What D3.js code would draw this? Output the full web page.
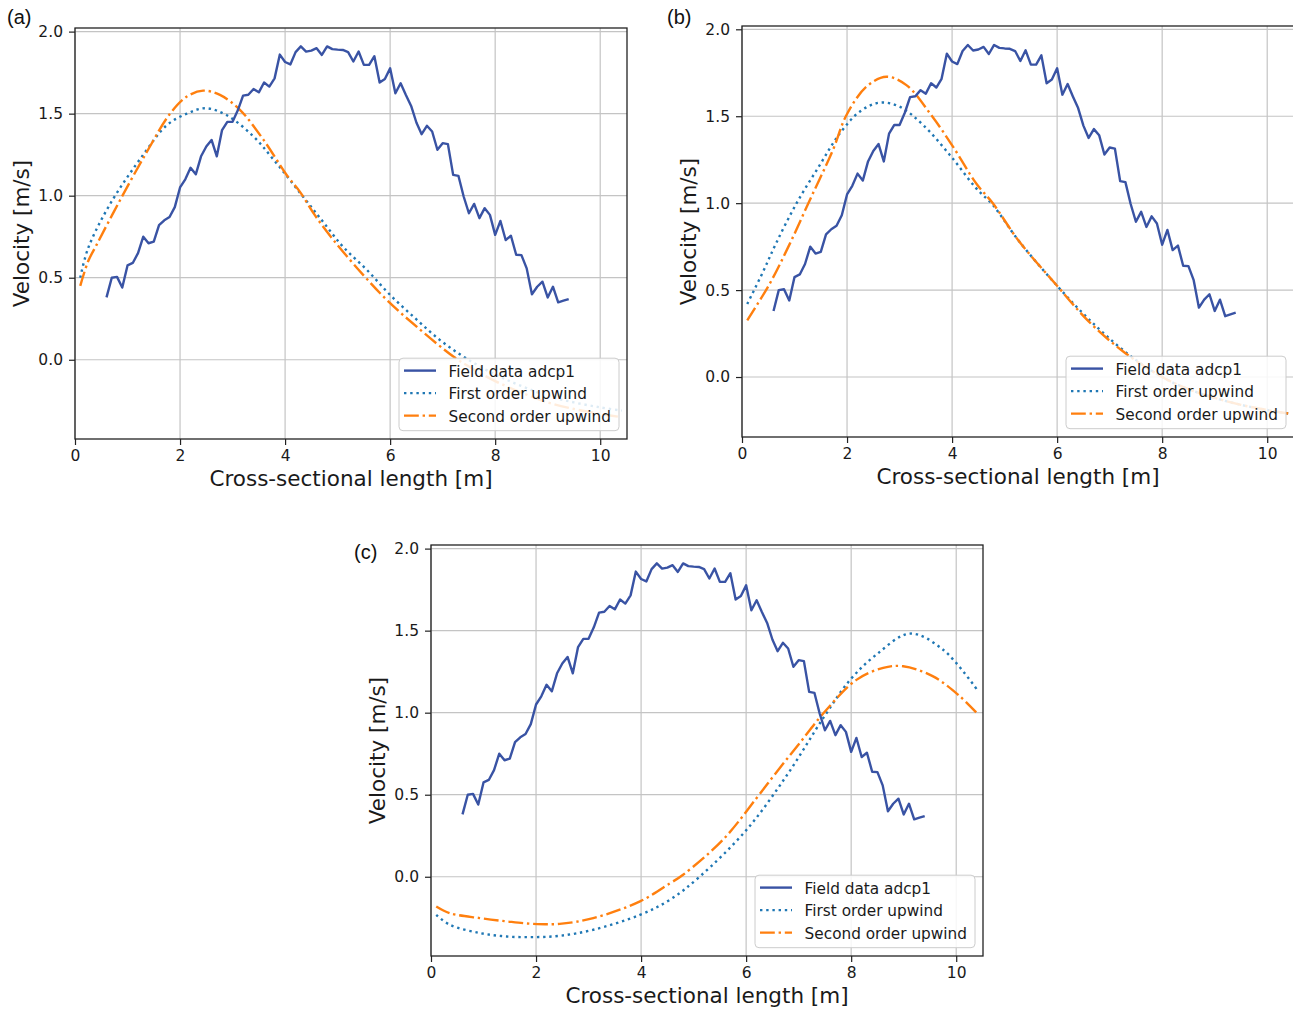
<!DOCTYPE html>
<html><head><meta charset="utf-8">
<script src="https://cdn.jsdelivr.net/npm/d3@7/dist/d3.min.js"></script>
<style>body{margin:0;background:#fff}svg{display:block}</style>
</head><body>
<svg id="chart" width="1293" height="1011"></svg>
<script>
// ---------- DATA ----------
const fieldX = [0.6,0.7,0.8,0.9,1.0,1.1,1.2,1.3,1.4,1.5,1.6,1.7,1.8,1.9,2.0,2.1,2.2,2.3,2.4,2.5,2.6,2.7,2.8,2.9,3.0,3.1,3.2,3.3,3.4,3.5,3.6,3.7,3.8,3.9,4.0,4.1,4.2,4.3,4.4,4.5,4.6,4.7,4.8,4.9,5.0,5.1,5.2,5.3,5.4,5.5,5.6,5.7,5.8,5.9,6.0,6.1,6.2,6.3,6.4,6.5,6.6,6.7,6.8,6.9,7.0,7.1,7.2,7.3,7.4,7.5,7.6,7.7,7.8,7.9,8.0,8.1,8.2,8.3,8.4,8.5,8.6,8.7,8.8,8.9,9.0,9.1,9.2,9.3,9.4];
const fieldV = [0.38,0.50,0.505,0.44,0.575,0.59,0.65,0.75,0.71,0.72,
  0.82,0.85,0.87,0.93,1.05,1.10,1.17,1.13,1.24,1.30,
  1.34,1.24,1.40,1.45,1.45,1.52,1.61,1.615,1.65,1.63,
  1.69,1.665,1.715,1.86,1.815,1.80,1.875,1.91,1.878,1.884,
  1.899,1.858,1.91,1.893,1.89,1.888,1.875,1.818,1.879,1.797,
  1.797,1.85,1.69,1.711,1.776,1.624,1.685,1.614,1.547,1.446,
  1.375,1.426,1.391,1.28,1.32,1.314,1.127,1.121,0.995,0.893,
  0.95,0.863,0.924,0.883,0.761,0.846,0.73,0.756,0.64,0.638,
  0.557,0.399,0.445,0.476,0.38,0.445,0.35,0.36,0.37];

// Panel (a)
const aFirstX  = [0.1,0.25,0.67,1.3,1.75,2.13,2.48,2.89,3.4,3.78,4.29,4.7,5.1,5.56,6.0,6.48,6.95,7.44,8.0,8.5,9.0,9.5,10.0,10.4];
const aFirstV  = [0.50,0.68,0.95,1.25,1.43,1.50,1.533,1.49,1.36,1.22,1.015,0.85,0.69,0.547,0.395,0.252,0.12,0.01,-0.09,-0.16,-0.22,-0.26,-0.29,-0.31];
const aSecondX = [0.1,0.25,0.41,0.86,1.37,1.81,2.13,2.44,2.76,3.14,3.59,4.03,4.29,4.57,4.92,5.49,5.97,6.51,7.21,7.6,8.0,8.5,9.0,9.5,10.0,10.4];
const aSecondV = [0.45,0.60,0.70,0.974,1.268,1.50,1.604,1.64,1.614,1.523,1.34,1.126,1.02,0.88,0.73,0.516,0.354,0.20,0.018,-0.06,-0.13,-0.2,-0.26,-0.30,-0.33,-0.35];
// Panel (b)
const bFirstX  = [0.1,0.4,0.65,1.04,1.48,1.86,2.24,2.62,3.0,3.45,3.96,4.46,4.78,5.26,5.99,6.69,7.38,8.0,8.5,9.0,9.5,10.0,10.4];
const bFirstV  = [0.42,0.605,0.77,1.0,1.219,1.40,1.526,1.578,1.555,1.449,1.276,1.085,0.988,0.787,0.528,0.307,0.125,0.0,-0.07,-0.12,-0.16,-0.19,-0.21];
const bSecondX = [0.1,0.53,0.9,1.29,1.73,1.99,2.37,2.75,3.13,3.58,4.02,4.46,4.78,5.26,5.99,6.6,7.27,8.0,8.5,9.0,9.5,10.0,10.4];
const bSecondV = [0.326,0.538,0.76,1.017,1.305,1.507,1.67,1.727,1.679,1.516,1.324,1.113,0.998,0.787,0.528,0.32,0.144,0.0,-0.07,-0.12,-0.16,-0.19,-0.21];
// Panel (c)
const cFirstX  = [0.1,0.36,0.93,1.44,1.94,2.45,3.09,3.98,4.55,5.12,6.01,6.8,7.47,7.98,8.48,9.12,9.75,10.42];
const cFirstV  = [-0.232,-0.293,-0.343,-0.364,-0.368,-0.36,-0.323,-0.232,-0.14,0.002,0.287,0.63,0.968,1.20,1.354,1.482,1.384,1.13];
const cSecondX = [0.1,0.36,0.93,1.44,1.94,2.45,3.09,3.98,4.55,4.8,5.56,6.2,6.56,7.02,7.53,8.1,8.61,8.99,9.56,10.07,10.42];
const cSecondV = [-0.181,-0.222,-0.252,-0.272,-0.287,-0.287,-0.252,-0.15,-0.04,0.012,0.226,0.48,0.63,0.815,1.018,1.20,1.273,1.283,1.221,1.10,0.988];

const xTicks = [0,2,4,6,8,10];
const yTicks = [0,0.5,1.0,1.5,2.0];
const legendLabels = ["Field data adcp1","First order upwind","Second order upwind"];
const panelLabels = ["(a)","(b)","(c)"];
const xLabel = "Cross-sectional length [m]";
const yLabel = "Velocity [m/s]";

// ---------- LAYOUT / STYLE ----------
const W = 552, H = 411;
const panels = [
  {left:75,  top:28,  yDom:[-0.483,2.022], lab:[7,24],    first:[aFirstX,aFirstV], second:[aSecondX,aSecondV]},
  {left:742, top:26,  yDom:[-0.345,2.019], lab:[667,24],  first:[bFirstX,bFirstV], second:[bSecondX,bSecondV]},
  {left:431, top:545, yDom:[-0.483,2.022], lab:[354,559], first:[cFirstX,cFirstV], second:[cSecondX,cSecondV]}
];
const colField = "#3953a4", colFirst = "#1f77b4", colSecond = "#ff7f0e";
const lw = 2.4;
const styles = [
  {color:colField, dash:null},
  {color:colFirst, dash:"2.4,3.8"},
  {color:colSecond, dash:"14.8,3.8,2.4,3.8"}
];
const FONT = "DejaVu Sans, sans-serif";
const textCol = "#1a1a1a";

const svg = d3.select("#chart");

panels.forEach((p, i) => {
  const x = d3.scaleLinear().domain([0, 10.51]).range([p.left, p.left + W]);
  const y = d3.scaleLinear().domain(p.yDom).range([p.top + H, p.top]);
  const g = svg.append("g");
  const clipId = "clip" + i;
  svg.append("clipPath").attr("id", clipId).append("rect")
    .attr("x", p.left).attr("y", p.top).attr("width", W).attr("height", H);

  // grid
  const grid = g.append("g").attr("stroke", "#c4c4c4").attr("stroke-width", 1.2);
  xTicks.forEach(t => grid.append("line").attr("x1", x(t)).attr("x2", x(t)).attr("y1", p.top).attr("y2", p.top + H));
  yTicks.forEach(t => grid.append("line").attr("y1", y(t)).attr("y2", y(t)).attr("x1", p.left).attr("x2", p.left + W));

  // axes
  const xAxis = d3.axisBottom(x).tickValues(xTicks).tickFormat(d3.format("d")).tickSize(6).tickPadding(5);
  const yAxis = d3.axisLeft(y).tickValues(yTicks).tickFormat(d3.format(".1f")).tickSize(6).tickPadding(6);
  const gx = g.append("g").attr("transform", `translate(0,${p.top + H})`).call(xAxis);
  const gy = g.append("g").attr("transform", `translate(${p.left},0)`).call(yAxis);
  [gx, gy].forEach(ax => {
    ax.select(".domain").remove();
    ax.selectAll(".tick line").attr("stroke", "#222").attr("stroke-width", 1.2);
    ax.selectAll(".tick text").attr("fill", textCol).style("font-family", FONT).style("font-size", "15.5px");
  });

  // lines
  const lines = g.append("g").attr("clip-path", `url(#${clipId})`);
  const lineGen = d3.line().x(d => x(d[0])).y(d => y(d[1]));
  const series = [
    {pts: d3.zip(fieldX, fieldV), curve: d3.curveLinear},
    {pts: d3.zip(p.first[0], p.first[1]), curve: d3.curveCatmullRom},
    {pts: d3.zip(p.second[0], p.second[1]), curve: d3.curveCatmullRom}
  ];
  [1, 2, 0].forEach(k => {
    const s = series[k];
    lines.append("path").attr("d", lineGen.curve(s.curve)(s.pts))
      .attr("fill", "none").attr("stroke", styles[k].color).attr("stroke-width", lw)
      .attr("stroke-dasharray", styles[k].dash).attr("stroke-linejoin", "round");
  });

  // spines
  g.append("rect").attr("x", p.left).attr("y", p.top).attr("width", W).attr("height", H)
    .attr("fill", "none").attr("stroke", "#222").attr("stroke-width", 1.3);

  // legend
  const lwid = 220, lht = 72.5;
  const lx = p.left + W - 8 - lwid, ly = p.top + H - 8.3 - lht;
  const lg = g.append("g");
  lg.append("rect").attr("x", lx).attr("y", ly).attr("width", lwid).attr("height", lht)
    .attr("rx", 4).attr("fill", "#fff").attr("fill-opacity", 0.85).attr("stroke", "#cccccc").attr("stroke-width", 1);
  legendLabels.forEach((t, k) => {
    const cy = ly + 12.4 + k * 22.5;
    lg.append("line").attr("x1", lx + 5).attr("x2", lx + 37).attr("y1", cy).attr("y2", cy)
      .attr("stroke", styles[k].color).attr("stroke-width", lw).attr("stroke-dasharray", styles[k].dash);
    lg.append("text").attr("x", lx + 49.6).attr("y", cy + 5.9).text(t)
      .attr("fill", textCol).style("font-family", FONT).style("font-size", "15.3px");
  });

  // axis labels
  g.append("text").attr("x", p.left + W / 2).attr("y", p.top + H + 47).attr("text-anchor", "middle")
    .text(xLabel).attr("fill", textCol).style("font-family", FONT).style("font-size", "21.5px");
  g.append("text").attr("transform", `translate(${p.left - 46},${p.top + H / 2}) rotate(-90)`)
    .attr("text-anchor", "middle").text(yLabel)
    .attr("fill", textCol).style("font-family", FONT).style("font-size", "21.5px");

  // panel label
  g.append("text").attr("x", p.lab[0]).attr("y", p.lab[1]).text(panelLabels[i])
    .attr("fill", "#111").style("font-family", "Liberation Sans, Arial, sans-serif").style("font-size", "20px");
});
</script>
</body></html>
